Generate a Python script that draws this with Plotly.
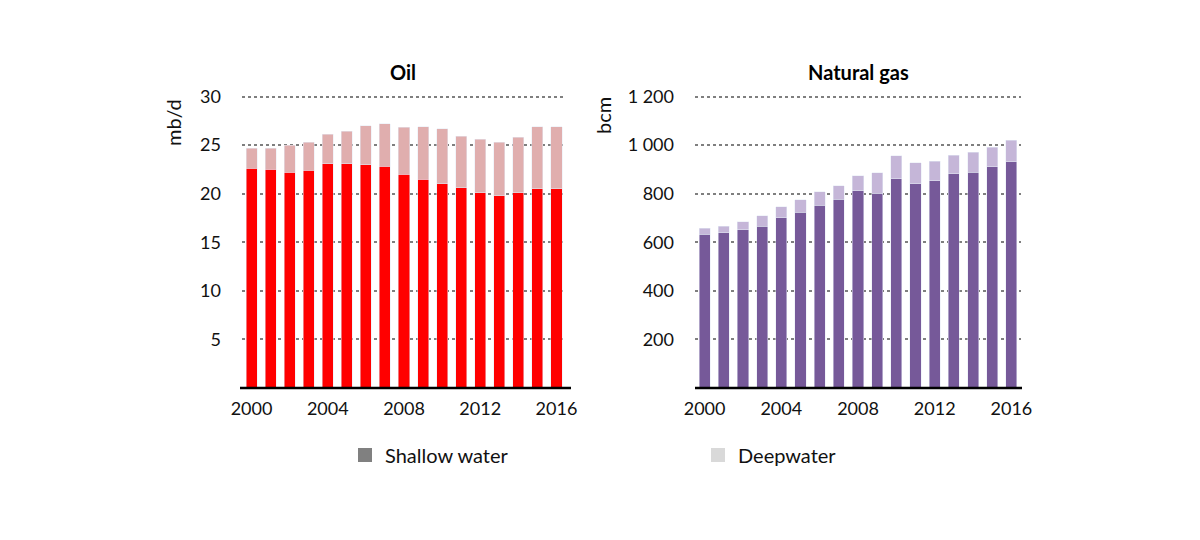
import plotly.graph_objects as go

years = list(range(2000, 2017))
oil_shallow = [22.6, 22.5, 22.2, 22.4, 23.1, 23.1, 23.0, 22.8, 22.0, 21.5, 21.0, 20.6, 20.1, 19.8, 20.1, 20.5, 20.5]
oil_total = [24.7, 24.7, 25.0, 25.3, 26.1, 26.4, 27.0, 27.2, 26.85, 26.9, 26.7, 25.9, 25.6, 25.3, 25.8, 26.9, 26.9]
oil_deep = [round(t - s, 2) for t, s in zip(oil_total, oil_shallow)]

gas_shallow = [633, 640, 652, 666, 700, 724, 753, 777, 811, 802, 862, 841, 854, 882, 888, 911, 932]
gas_total = [657, 666, 685, 709, 747, 775, 807, 833, 873, 886, 957, 927, 934, 959, 971, 992, 1020]
gas_deep = [t - s for t, s in zip(gas_total, gas_shallow)]

oil_ticks = [5, 10, 15, 20, 25, 30]
gas_ticks = [200, 400, 600, 800, 1000, 1200]
gas_ticktext = ["200", "400", "600", "800", "1 000", "1 200"]
x_ticks = [2000, 2004, 2008, 2012, 2016]

FONT = "Lato"
W, H = 1200, 540

def px(x):
    return x / W

def py(y):
    return 1 - y / H

fig = go.Figure()

fig.add_bar(x=years, y=oil_shallow, marker_color="#FF0000", showlegend=False, xaxis="x", yaxis="y", width=0.58)
fig.add_bar(x=years, y=oil_deep, marker_color="#E0AEAE", showlegend=False, xaxis="x", yaxis="y", width=0.58)
fig.add_bar(x=years, y=gas_shallow, marker_color="#765999", showlegend=False, xaxis="x2", yaxis="y2", width=0.58)
fig.add_bar(x=years, y=gas_deep, marker_color="#C5B6D8", showlegend=False, xaxis="x2", yaxis="y2", width=0.58)

# legend entries
fig.add_scatter(x=[None], y=[None], mode="markers", name="Shallow water",
                marker=dict(symbol="square", size=14, color="#808080"), legend="legend", xaxis="x", yaxis="y")
fig.add_scatter(x=[None], y=[None], mode="markers", name="Deepwater",
                marker=dict(symbol="square", size=14, color="#D9D9D9"), legend="legend2", xaxis="x", yaxis="y")

grid = dict(showgrid=True, gridcolor="#7F7F7F", gridwidth=2, griddash="dot", zeroline=False, automargin=False,
            tickfont=dict(family=FONT, size=18, color="#111"), ticklabelstandoff=20)
xcommon = dict(tickvals=x_ticks, range=[1999.5, 2016.5], showgrid=False, zeroline=False, automargin=False,
               showline=False, tickfont=dict(family=FONT, size=18, color="#111"), ticklabelstandoff=8)

# vertical mapping: 0 at y=388px, 30 at y=96.5px -> extend range slightly so top gridline is drawn
unit_px = (388 - 96.5) / 30.0
oil_max = 30.6
gas_max = 1224
y_bot = 388
oil_top = y_bot - oil_max * unit_px
gas_top = y_bot - gas_max * unit_px / 40.0

leg_font = dict(family=FONT, size=20, color="#111")

fig.update_layout(
    width=W, height=H, barmode="stack", bargap=0.42,
    margin=dict(l=0, r=0, t=0, b=0, pad=0, autoexpand=False),
    plot_bgcolor="white", paper_bgcolor="white",
    font=dict(family=FONT, size=18, color="#111"),
    xaxis=dict(domain=[px(242), px(566)], anchor="y", **xcommon),
    xaxis2=dict(domain=[px(695), px(1021)], anchor="y2", **xcommon),
    yaxis=dict(domain=[py(y_bot), py(oil_top)], range=[0, oil_max], tickvals=oil_ticks, anchor="x", **grid),
    yaxis2=dict(domain=[py(y_bot), py(gas_top)], range=[0, gas_max], tickvals=gas_ticks, ticktext=gas_ticktext,
                anchor="x2", **grid),
    legend=dict(x=px(345), y=py(455), xanchor="left", yanchor="middle", orientation="h",
                font=leg_font, bgcolor="rgba(0,0,0,0)"),
    legend2=dict(x=px(698), y=py(455), xanchor="left", yanchor="middle", orientation="h",
                 font=leg_font, bgcolor="rgba(0,0,0,0)"),
    shapes=[
        dict(type="line", xref="paper", yref="paper", x0=px(240), x1=px(571), y0=py(388), y1=py(388),
             line=dict(color="black", width=2.5)),
        dict(type="line", xref="paper", yref="paper", x0=px(695), x1=px(1022), y0=py(388), y1=py(388),
             line=dict(color="black", width=2.5)),
    ],
    annotations=[
        dict(text="<b>Oil</b>", x=px(403), y=py(72), xref="paper", yref="paper", showarrow=False,
             xanchor="center", yanchor="middle", font=dict(family=FONT, size=20, color="black")),
        dict(text="<b>Natural gas</b>", x=px(858), y=py(72), xref="paper", yref="paper", showarrow=False,
             xanchor="center", yanchor="middle", font=dict(family=FONT, size=20, color="black")),
        dict(text="mb/d", x=px(173), y=py(123), xref="paper", yref="paper", showarrow=False, textangle=-90,
             xanchor="center", yanchor="middle", font=dict(family=FONT, size=20, color="#111")),
        dict(text="bcm", x=px(603), y=py(115), xref="paper", yref="paper", showarrow=False, textangle=-90,
             xanchor="center", yanchor="middle", font=dict(family=FONT, size=20, color="#111")),
    ],
)

fig.write_html("out.html", config={"displayModeBar": False},
               post_script="document.body.style.margin='0';document.body.style.overflow='hidden';")
